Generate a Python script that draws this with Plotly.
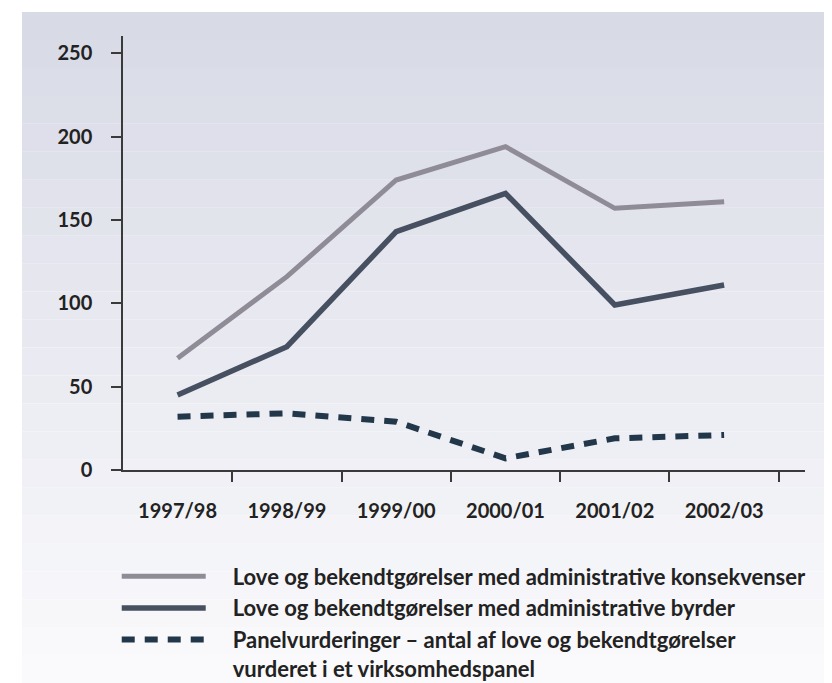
import plotly.graph_objects as go

years = ["1997/98", "1998/99", "1999/00", "2000/01", "2001/02", "2002/03"]
konsekvenser = [67, 116, 174, 194, 157, 161]
byrder = [45, 74, 143, 166, 99, 111]
panel = [32, 34, 29, 7, 19, 21]
y_ticks = [0, 50, 100, 150, 200, 250]

IND = "\u2002\u2002"
names = [
    IND + "Love og bekendtgørelser med administrative konsekvenser",
    IND + "Love og bekendtgørelser med administrative byrder",
    IND + "Panelvurderinger – antal af love og bekendtgørelser<br>" + IND + "vurderet i et virksomhedspanel",
]

FONT = "Lato"
# page body has an 8px margin, so the figure is 8px smaller than the window
W, H = 824, 675
ML, MR, MT, MB = 115, 27, 28, 213
pw = W - ML - MR
ph = H - MT - MB

fig = go.Figure()
fig.add_trace(go.Scatter(x=years, y=konsekvenser, mode="lines", name=names[0],
                         line=dict(color="#8f8c98", width=5)))
fig.add_trace(go.Scatter(x=years, y=byrder, mode="lines", name=names[1],
                         line=dict(color="#465061", width=5.5)))
fig.add_trace(go.Scatter(x=years, y=panel, mode="lines", name=names[2],
                         line=dict(color="#223749", width=6, dash="13px,10px")))

# banded background gradient
shapes = []
top, bottom = 4, H
n = 24
c0 = (215, 217, 229)
c1 = (251, 251, 253)
for i in range(n):
    ya = top + (bottom - top) * i / n
    yb = top + (bottom - top) * (i + 1) / n
    f = (i + 0.5) / n
    col = tuple(round(c0[k] + (c1[k] - c0[k]) * f) for k in range(3))
    shapes.append(dict(
        type="rect", xref="paper", yref="paper", layer="below",
        x0=(14 - ML) / pw, x1=(W - ML) / pw,
        y0=(H - MB - yb) / ph, y1=(H - MB - ya) / ph,
        fillcolor="rgb(%d,%d,%d)" % col, line=dict(width=0),
    ))

axis_common = dict(
    showline=True, linecolor="#3a3a3a", linewidth=1.5,
    ticks="outside", ticklen=10, tickwidth=1.5, tickcolor="#3a3a3a",
    showgrid=False, zeroline=False,
    tickfont=dict(family=FONT, size=20, color="#222222", weight="bold"),
)

fig.update_layout(
    width=W, height=H, autosize=False,
    margin=dict(l=ML, r=MR, t=MT, b=MB, pad=0, autoexpand=False),
    paper_bgcolor="white", plot_bgcolor="rgba(0,0,0,0)",
    shapes=shapes,
    xaxis=dict(type="category", range=[-0.499, 5.74], tickson="boundaries",
               ticklabelstandoff=22, **axis_common),
    yaxis=dict(range=[0, 260.4], tickmode="array", tickvals=y_ticks,
               ticklabelstandoff=15, **axis_common),
    showlegend=True,
    legend=dict(
        x=-0.0092, y=-0.197, xanchor="left", yanchor="top",
        font=dict(family=FONT, size=22, color="#222222", weight="bold"),
        itemwidth=84, valign="top", bgcolor="rgba(0,0,0,0)", traceorder="normal",
    ),
)

fig.write_html("out.html")
